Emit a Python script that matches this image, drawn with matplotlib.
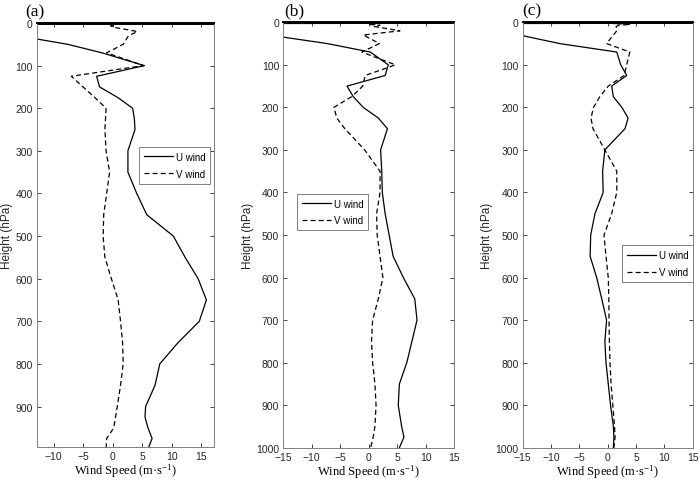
import matplotlib
matplotlib.use("Agg")
import matplotlib.pyplot as plt

# pressure levels (hPa)
levels = [1, 2, 3, 5, 7, 10, 20, 30, 50, 70, 100, 125, 150, 175, 200, 225, 250,
          300, 350, 400, 450, 500, 550, 600, 650, 700, 750, 800, 850, 900, 925,
          950, 975, 1000]

# (a)
u_a = [-40, 30, -20, -28, -30, -30, -24, -16, -7.6, -1.8, 5.4, -2.7, -2.2, 0.9, 3.4, 3.7, 3.8,
       2.6, 2.6, 4.1, 5.8, 10.3, 12.3, 14.5, 15.9, 14.7, 11.1, 8.0, 7.2, 5.6, 5.5,
       6.0, 6.7, 6.0]
v_a = [1.5, -3, -1, 0.5, -0.3, 0.2, 4.2, 2.7, 1.8, -1.0, 5.2, -7.0, -5.0, -3.0, -1.1, -1.2, -1.3,
       -1.1, -0.5, -1.0, -1.5, -1.6, -1.3, -0.2, 0.95, 1.35, 1.7, 1.8, 1.35, 0.8, 0.5,
       0.2, -1.0, -1.1]

# (b)
u_b = [-40, 30, -25, -30, -32, -30, -25, -17.5, -7.3, 0.3, 3.45, 2.9, -3.8, -2.7, -0.95, 1.7, 3.3,
       2.1, 2.3, 2.4, 2.9, 3.6, 4.3, 6.1, 8.1, 8.5, 7.6, 6.7, 5.4, 5.2, 5.5,
       5.8, 6.2, 5.4]
v_b = [2, -1, 1.5, 0, 2, 1, 5.5, -0.95, 1.9, -1.2, 4.7, -0.6, -1.05, -3.0, -6.1, -5.6, -4.2,
       -0.7, 2.0, 2.0, 1.4, 1.5, 2.0, 2.5, 1.7, 0.7, 0.5, 0.7, 1.1, 1.3, 1.2,
       1.1, 0.8, 0.35]

# (c)
u_c = [-40, 30, -25, -30, -30, -28, -22, -15.5, -8.5, 1.6, 2.3, 3.35, 0.7, 1.0, 2.5, 3.6, 3.05,
       -0.5, -0.9, -0.8, -2.25, -3.0, -3.1, -1.95, -1.05, -0.2, -0.5, -0.3, 0.1, 0.5, 0.75,
       1.0, 1.1, 1.0]
v_c = [3, 6, 1, 4, 2, 1.5, 1.6, 1.0, -0.2, 3.9, 3.35, 2.9, 0.1, -1.4, -2.5, -2.95, -2.6,
       -0.5, 1.6, 1.6, 0.7, -0.65, -0.3, 0.1, 0.2, 0.23, 0.3, 0.4, 0.6, 0.9, 1.05,
       1.2, 1.3, 1.1]

panels = ["(a)", "(b)", "(c)"]

plt.rcParams['font.family'] = ['Liberation Sans', 'DejaVu Sans']
plt.rcParams['mathtext.fontset'] = 'custom'
plt.rcParams['mathtext.rm'] = 'Liberation Serif'
plt.rcParams['mathtext.it'] = 'Liberation Serif:italic'

gray = '#262626'
fig = plt.figure(figsize=(7, 4.81), dpi=100)

# axes boxes [left, bottom, width, height]
boxes = [[0.0529, 0.0686, 0.2529, 0.8815],
         [0.4047, 0.0670, 0.2439, 0.8846],
         [0.7467, 0.0670, 0.2429, 0.8846]]
xlims = [(-12.8, 17.2), (-15, 15), (-15, 15)]
ylims = [(995, 0), (1000, 0), (1000, 0)]
xticks = [[-10, -5, 0, 5, 10, 15], list(range(-15, 20, 5)), list(range(-15, 20, 5))]
yticks = [list(range(0, 1000, 100)), list(range(0, 1100, 100)), list(range(0, 1100, 100))]
leg_pos = [(0.576, 0.7075), (0.0785, 0.597), (0.582, 0.4756)]
title_x = [-0.011, 0.063, 0.055]

data = [(u_a, v_a), (u_b, v_b), (u_c, v_c)]

for i in range(3):
    ax = fig.add_axes(boxes[i])
    u, v = data[i]
    ax.plot(u, levels, color='black', lw=0.9, label='U wind')
    ax.plot(v, levels, color='black', lw=0.9, ls=(0, (4, 2.5)), label='V wind')
    ax.set_xlim(xlims[i])
    ax.set_ylim(ylims[i])
    ax.set_xticks(xticks[i])
    ax.set_yticks(yticks[i])
    ax.tick_params(direction='in', length=3, width=0.6, top=True, right=True,
                   labelsize=7.5, colors=gray, labelcolor=gray, pad=3)
    for s in ax.spines.values():
        s.set_color('#808080')
        s.set_linewidth(0.7)
    ax.spines['top'].set_color('black')
    ax.spines['top'].set_linewidth(1.4)
    ax.set_ylabel('Height (hPa)', fontsize=8.5, color=gray, labelpad=1.5)
    ax.set_xlabel('Wind Speed (m·s$^{-1}$)', fontsize=9, family='Liberation Serif',
                  labelpad=0.5)
    ax.text(title_x[i], 1.028, panels[i], transform=ax.transAxes, ha='center', va='center',
            fontsize=12.5, family='Liberation Serif')
    leg = ax.legend(loc='upper left', bbox_to_anchor=leg_pos[i], fontsize=7,
                    handlelength=3.0, fancybox=False, framealpha=1, borderaxespad=0,
                    borderpad=0.5, labelspacing=0.7, handletextpad=0.3)
    leg.get_frame().set_edgecolor('#808080')
    leg.get_frame().set_linewidth(0.7)

fig.savefig('out.png', dpi=100)
